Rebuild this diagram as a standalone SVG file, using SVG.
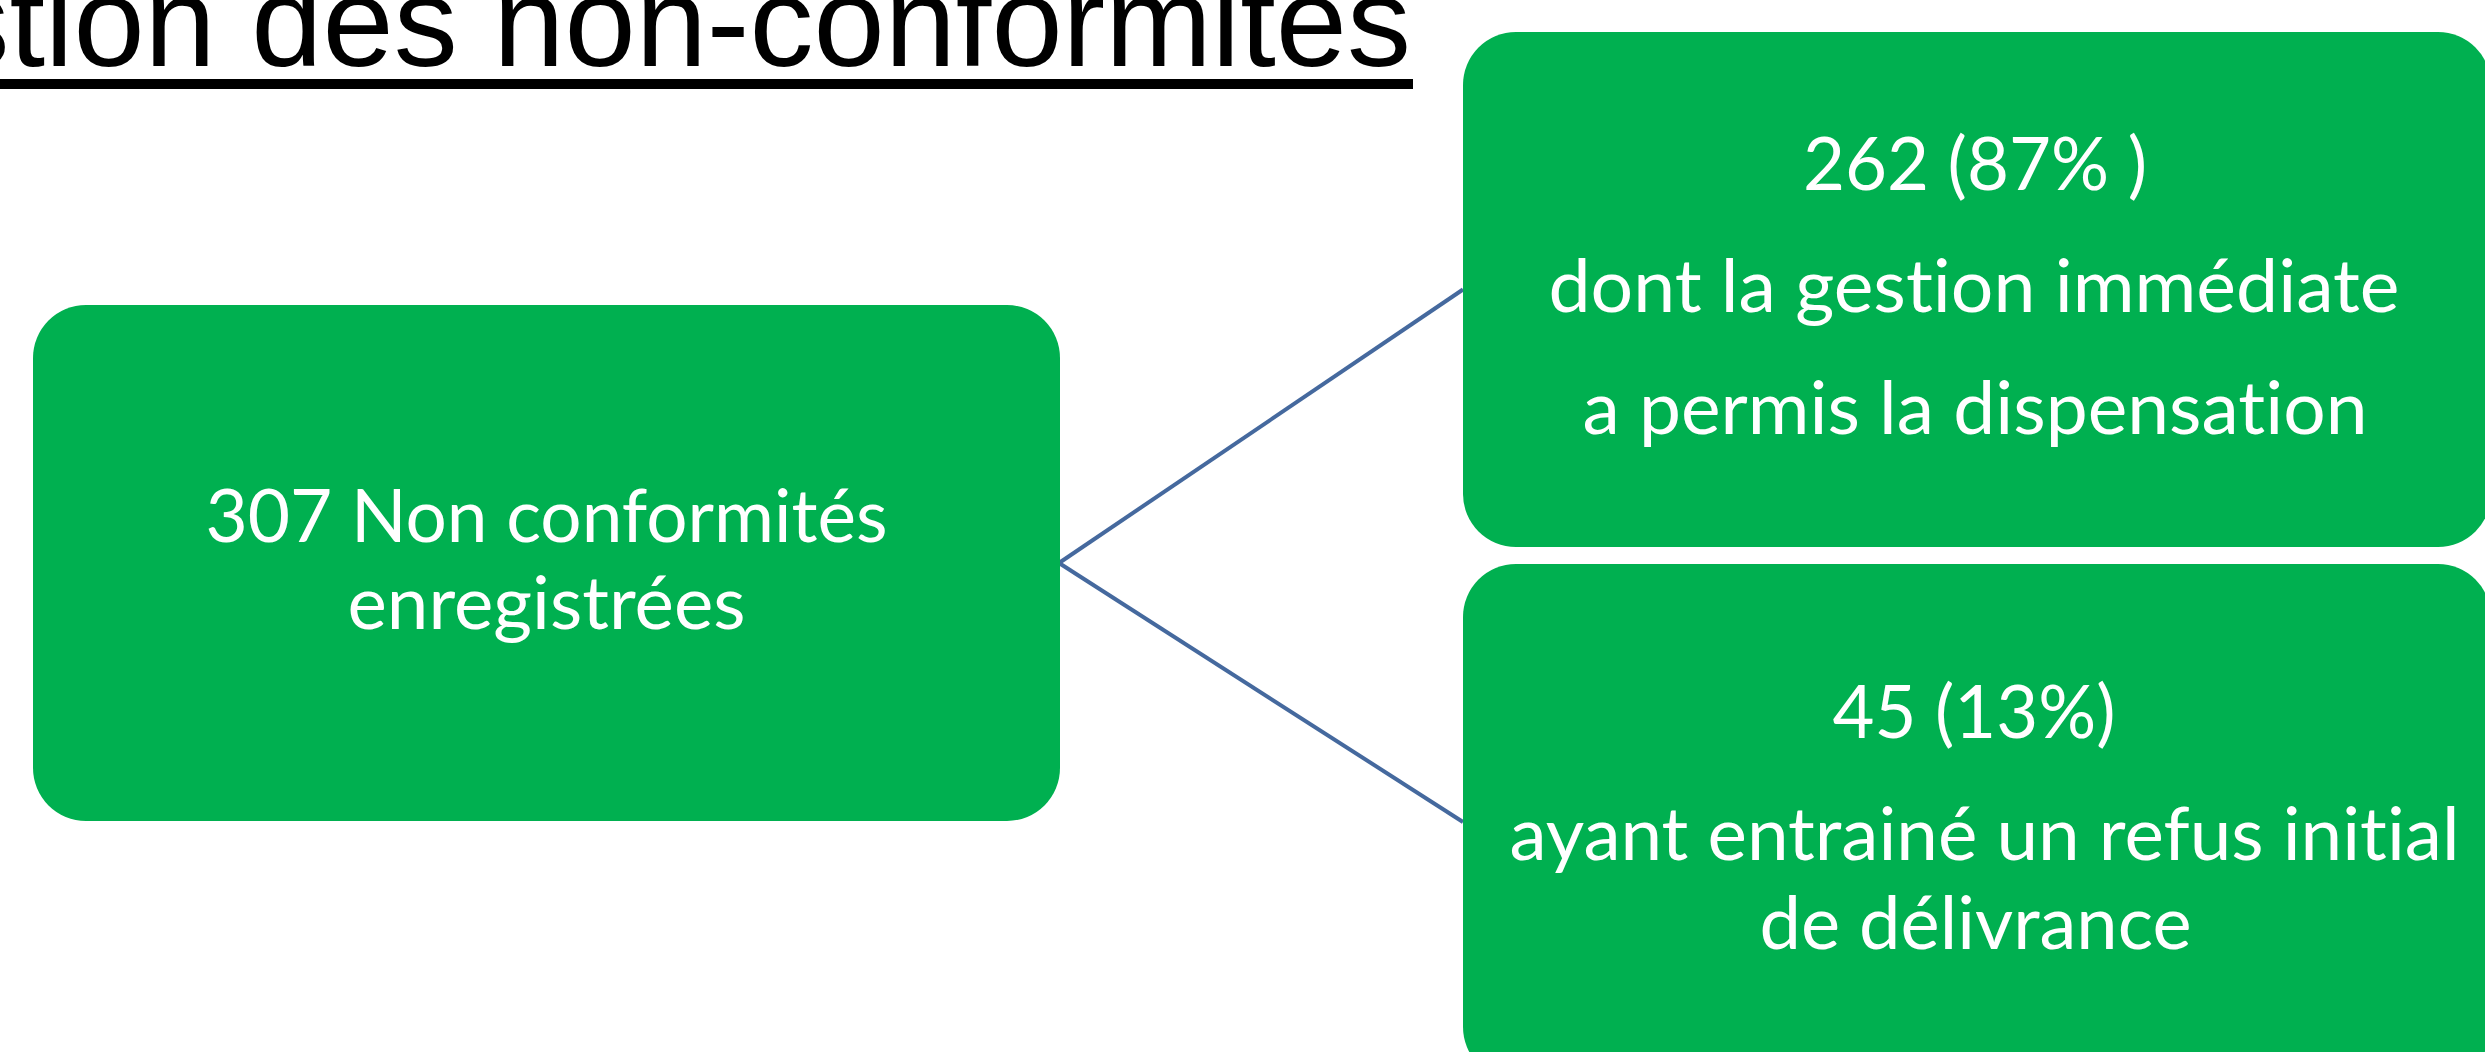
<svg xmlns="http://www.w3.org/2000/svg" width="2485" height="1052" viewBox="0 0 2485 1052">
<style>
.box{fill:#00B050;}
.t{font-family:Lato,"Open Sans","Noto Sans",sans-serif;font-size:74px;fill:#FFFFFF;text-anchor:middle;font-variant-ligatures:none;font-feature-settings:"liga" 0,"clig" 0;}
.title{font-family:"Liberation Sans",Arial,sans-serif;font-size:128px;fill:#000000;text-anchor:end;}
.conn{stroke:#45699E;stroke-width:4;fill:none;}
</style>
<rect width="2485" height="1052" fill="#FFFFFF"/>
<g id="title">
<text class="title" x="1411" y="66">stion des non-conformités</text>
<rect x="0" y="79" width="1413" height="10" fill="#000000"/>
</g>
<g id="connectors">
<line class="conn" x1="1059" y1="563" x2="1463" y2="289.5"/>
<line class="conn" x1="1059" y1="563" x2="1463" y2="822"/>
</g>
<g id="node-total">
<rect class="box" x="33" y="305" width="1027" height="516" rx="53" ry="53"/>
<text class="t" x="546.5" y="542" textLength="682" lengthAdjust="spacingAndGlyphs">307 Non conformités</text>
<text class="t" x="546.5" y="629" textLength="398" lengthAdjust="spacingAndGlyphs">enregistrées</text>
</g>
<g id="node-dispensation">
<rect class="box" x="1463" y="32" width="1028" height="515" rx="53" ry="53"/>
<text class="t" x="1975" y="190" textLength="344" lengthAdjust="spacingAndGlyphs">262 (87% )</text>
<text class="t" x="1974" y="312" textLength="851" lengthAdjust="spacingAndGlyphs">dont la gestion immédiate</text>
<text class="t" x="1975" y="434" textLength="785" lengthAdjust="spacingAndGlyphs">a permis la dispensation</text>
</g>
<g id="node-refus">
<rect class="box" x="1463" y="564" width="1028" height="516" rx="53" ry="53"/>
<text class="t" x="1974" y="738" textLength="283" lengthAdjust="spacingAndGlyphs">45 (13%)</text>
<text class="t" x="1984.5" y="860" textLength="950" lengthAdjust="spacingAndGlyphs">ayant entrainé un refus initial</text>
<text class="t" x="1975.5" y="949" textLength="432" lengthAdjust="spacingAndGlyphs">de délivrance</text>
</g>
</svg>
